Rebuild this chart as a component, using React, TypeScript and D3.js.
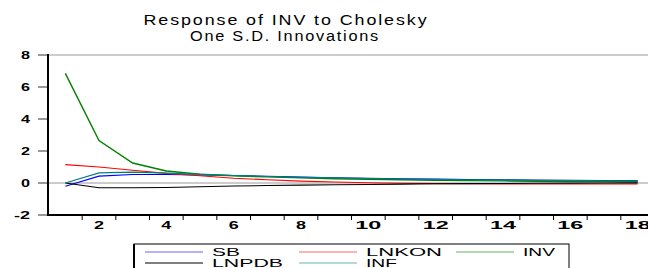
import * as d3 from 'd3';

const periods = d3.range(1, 19);
const sb = [-0.2, 0.43, 0.53, 0.53, 0.5, 0.47, 0.42, 0.37, 0.33, 0.3, 0.27, 0.24, 0.22, 0.2, 0.19, 0.17, 0.16, 0.15];
const lnkon = [1.15, 1.0, 0.8, 0.6, 0.45, 0.3, 0.2, 0.12, 0.06, 0.02, -0.02, -0.04, -0.05, -0.06, -0.06, -0.06, -0.06, -0.06];
const inv = [6.85, 2.65, 1.25, 0.75, 0.55, 0.45, 0.38, 0.32, 0.27, 0.23, 0.2, 0.17, 0.15, 0.13, 0.11, 0.1, 0.09, 0.08];
const lnpdb = [0.0, -0.3, -0.3, -0.28, -0.23, -0.19, -0.16, -0.13, -0.11, -0.09, -0.07, -0.05, -0.04, -0.03, -0.02, -0.01, 0.0, 0.01];
const inf = [0.0, 0.63, 0.68, 0.62, 0.54, 0.47, 0.41, 0.36, 0.32, 0.28, 0.25, 0.22, 0.2, 0.18, 0.16, 0.15, 0.14, 0.13];

const series = [
  { name: 'SB', values: sb, color: '#0000ff' },
  { name: 'LNKON', values: lnkon, color: '#ff0000' },
  { name: 'INV', values: inv, color: '#008000' },
  { name: 'LNPDB', values: lnpdb, color: '#000000' },
  { name: 'INF', values: inf, color: '#008080' },
];

const yTicks = [-2, 0, 2, 4, 6, 8];
const xLabels = [2, 4, 6, 8, 10, 12, 14, 16, 18];

const W = 648;
const H = 268;

export default function App() {
  const x = d3.scaleLinear().domain([0.5, 18.5]).range([48.5, 654.5]);
  const y = d3.scaleLinear().domain([-2, 8]).range([215, 55]);
  const line = d3.line<number>()
    .x((_, i) => x(periods[i]))
    .y((d) => y(d));

  const font = 'Arial, "Liberation Sans", sans-serif';
  const xTicks = d3.range(1.5, 18.5, 1);

  // legend layout: two rows, three columns
  const legendCols = [145, 299, 456];
  const legendRows = [252, 263];
  const legendWidths: Record<string, number> = { SB: 28, LNKON: 76, INV: 32, LNPDB: 71, INF: 31 };

  return (
    <svg width={W} height={H} style={{ position: 'absolute', left: 0, top: 0, background: '#fff' }}>
      {/* Title */}
      <text x={286} y={25} textAnchor="middle" fontFamily={font} fontSize={14}
        textLength={285} lengthAdjust="spacingAndGlyphs" letterSpacing={1.5}>Response of INV to Cholesky</text>
      <text x={285} y={41} textAnchor="middle" fontFamily={font} fontSize={14}
        textLength={190} lengthAdjust="spacingAndGlyphs" letterSpacing={1.5}>One S.D. Innovations</text>

      {/* frame */}
      <line x1={48} x2={W} y1={55} y2={55} stroke="#999" strokeWidth={1} />
      {/* zero line */}
      <line x1={48} x2={W} y1={y(0)} y2={y(0)} stroke="#999" strokeWidth={1} />

      {/* y axis */}
      {yTicks.map((t) => (
        <g key={t}>
          <line x1={38} x2={48} y1={y(t)} y2={y(t)} stroke="#333" />
          <text x={30} y={y(t) + 4} textAnchor="end" fontFamily={font} fontSize={11}
            fontWeight="bold" textLength={t < 0 ? 16 : 9} lengthAdjust="spacingAndGlyphs">{t}</text>
        </g>
      ))}
      <line x1={48} x2={48} y1={54} y2={216} stroke="#000" strokeWidth={2} />

      {/* x axis */}
      <line x1={47} x2={W} y1={215} y2={215} stroke="#000" strokeWidth={2} />
      {xTicks.map((t) => (
        <line key={t} x1={x(t)} x2={x(t)} y1={215} y2={220} stroke="#000" />
      ))}
      {xLabels.map((t) => (
        <text key={t} x={x(t)} y={229} textAnchor="middle" fontFamily={font} fontSize={11}
          fontWeight="bold" textLength={t >= 10 ? 26 : 10} lengthAdjust="spacingAndGlyphs">{t}</text>
      ))}

      {/* series */}
      {series.map((s) => (
        <path key={s.name} d={line(s.values) || ''} fill="none" stroke={s.color}
          strokeWidth={s.name === 'INV' ? 1.4 : 1.1} />
      ))}

      {/* legend */}
      <rect x={134} y={244} width={435} height={40} fill="#fff" stroke="#000" strokeWidth={1} />
      <line x1={134} x2={134} y1={244} y2={H} stroke="#000" strokeWidth={2} />
      {series.map((s, i) => {
        const lx = legendCols[i % 3];
        const ly = legendRows[Math.floor(i / 3)];
        return (
          <g key={s.name}>
            <line x1={lx} x2={lx + 58} y1={ly} y2={ly} stroke={s.color}
              strokeOpacity={s.name === 'LNPDB' ? 1 : 0.6} strokeWidth={1.2} />
            <text x={lx + 67} y={ly + 4} fontFamily={font} fontSize={11}
              textLength={legendWidths[s.name]} lengthAdjust="spacingAndGlyphs">{s.name}</text>
          </g>
        );
      })}
    </svg>
  );
}
